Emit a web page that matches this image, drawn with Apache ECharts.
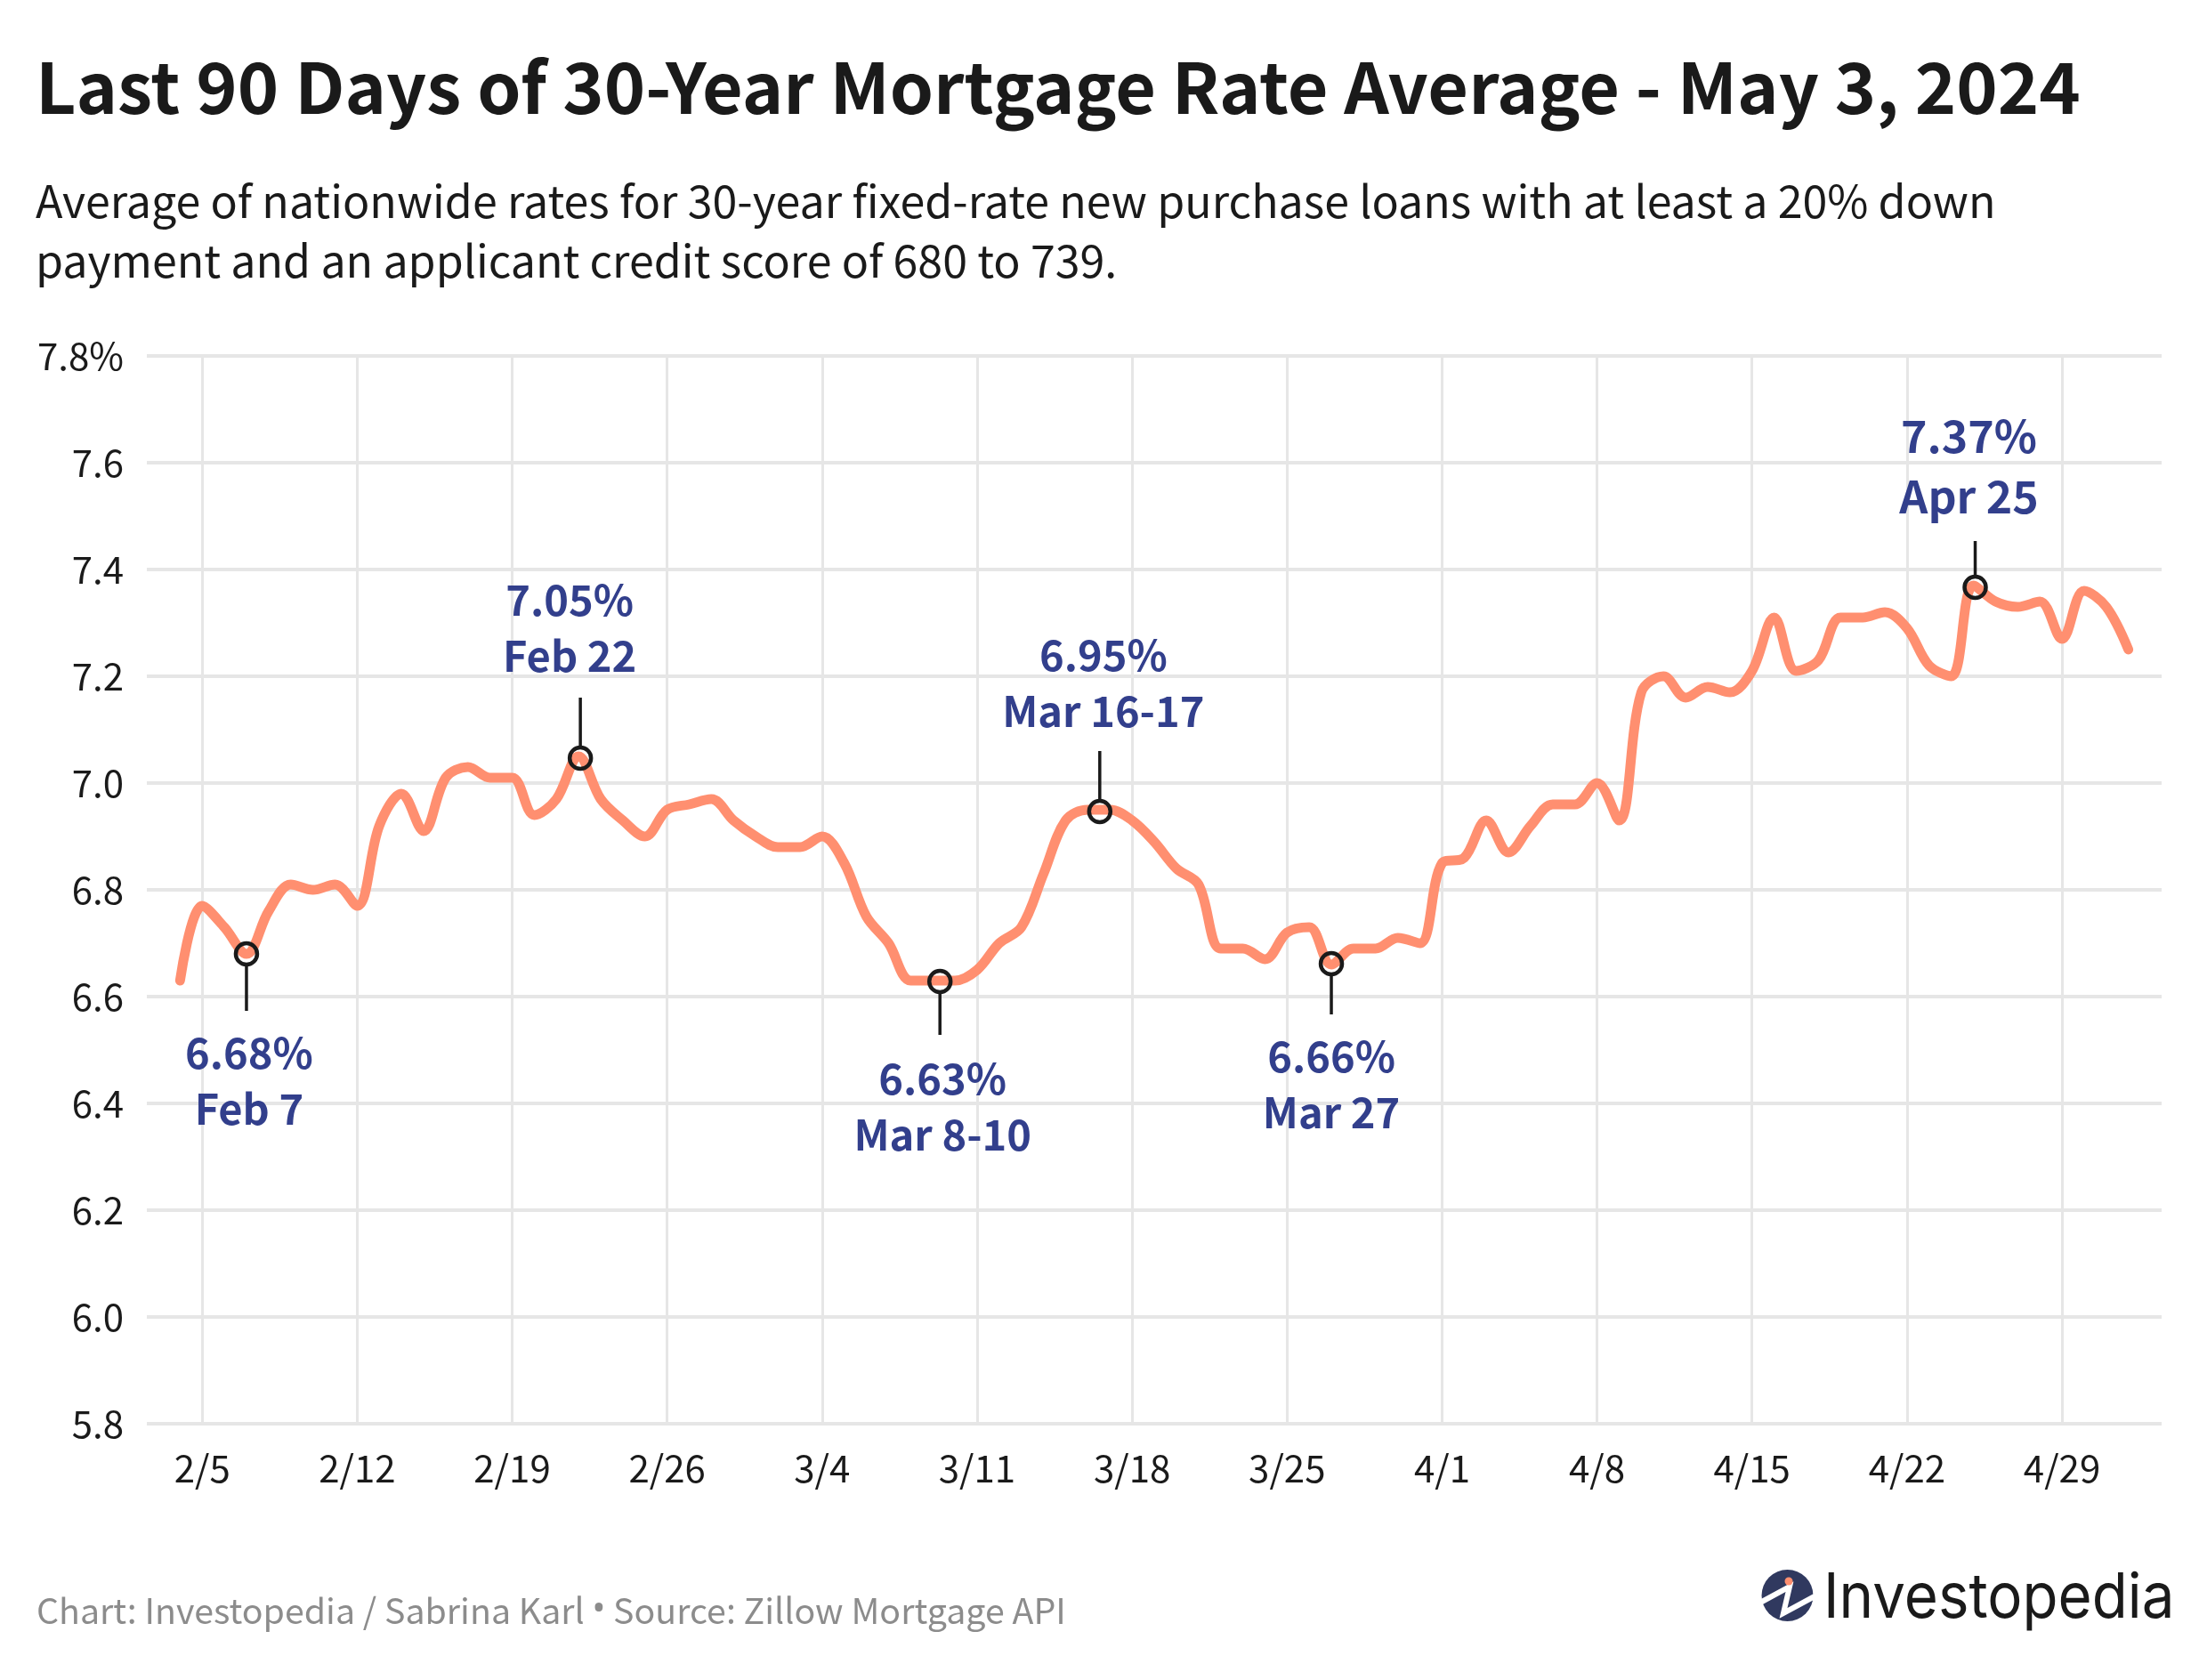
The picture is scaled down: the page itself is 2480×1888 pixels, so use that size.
<!DOCTYPE html>
<html>
<head>
<meta charset="utf-8">
<style>html,body{margin:0;padding:0;background:#fff}#chart{width:2480px;height:1888px}</style>
<script src="https://cdn.jsdelivr.net/npm/echarts@6/dist/echarts.min.js"></script>
</head>
<body>
<div id="chart"></div>
<script>
var dates = ['2/3','2/4','2/5','2/6','2/7','2/8','2/9','2/10','2/11','2/12','2/13','2/14','2/15','2/16','2/17','2/18','2/19','2/20','2/21','2/22','2/23','2/24','2/25','2/26','2/27','2/28','2/29',
    '3/1','3/2','3/3','3/4','3/5','3/6','3/7','3/8','3/9','3/10','3/11','3/12','3/13','3/14','3/15','3/16','3/17','3/18','3/19','3/20','3/21','3/22','3/23','3/24','3/25','3/26','3/27','3/28','3/29','3/30','3/31',
    '4/1','4/2','4/3','4/4','4/5','4/6','4/7','4/8','4/9','4/10','4/11','4/12','4/13','4/14','4/15','4/16','4/17','4/18','4/19','4/20','4/21','4/22','4/23','4/24','4/25','4/26','4/27','4/28','4/29','4/30',
    '5/1','5/2','5/3'];

var rates = [null,6.63,6.77,6.73,6.68,6.76,6.81,6.80,6.81,6.77,6.92,6.98,6.91,7.01,7.03,7.01,7.01,6.94,6.97,7.05,6.97,6.93,6.90,6.95,6.96,6.97,6.93,
    6.90,6.88,6.88,6.90,6.85,6.75,6.70,6.63,6.63,6.63,6.65,6.70,6.73,6.83,6.93,6.95,6.95,6.93,6.89,6.84,6.81,6.69,6.69,6.67,6.72,6.73,6.66,6.69,6.69,6.71,6.70,
    6.85,6.86,6.93,6.87,6.92,6.96,6.96,7.00,6.93,7.17,7.20,7.16,7.18,7.17,7.21,7.31,7.21,7.23,7.31,7.31,7.32,7.29,7.22,7.20,7.37,7.34,7.33,7.34,7.27,7.36,
    7.33,7.25,null];

var weekTicks = ['2/5','2/12','2/19','2/26','3/4','3/11','3/18','3/25','4/1','4/8','4/15','4/22','4/29'];

var calloutFrom = ['2/7','2/22','3/8','3/16','3/27','4/25'];
var calloutTo = ['2/7','2/22','3/10','3/17','3/27','4/25'];
var calloutValues = [6.68,7.05,6.63,6.95,6.66,7.37];
var calloutRates = ['6.68%','7.05%','6.63%','6.95%','6.66%','7.37%'];
var calloutNames = ['Feb 7','Feb 22','Mar 8-10','Mar 16-17','Mar 27','Apr 25'];

// hand placed annotation layout, in pixels from the point
var calloutSides = [1,-1,1,-1,1,-1];
var calloutDotShift = [0,2,8,1,0,2];
var calloutDotDrop = [0,2,1,2,-1,2];
var calloutTextShift = [3,-10,11,5,0,-5];
var calloutStem = [64,66,61,66,56,50];
var calloutRateY = [111,-176,110,-174,103,-168];
var calloutNameY = [174,-113,173,-111,166,-100];
var calloutFont = [47,47,47,47,47,50];

var FONT = '"Noto Sans CJK SC","Noto Sans",sans-serif';
var LINE = '#ff8f70';
var GRID = '#e6e6e6';
var INK = '#1a1a1a';
var NAVY = '#323f8c';

var myChart = echarts.init(document.getElementById('chart'), null, {renderer: 'canvas'});

function drawCallout(params, api) {
    var i = params.dataIndex;
    var a = api.coord([calloutFrom[i], calloutValues[i]]);
    var b = api.coord([calloutTo[i], calloutValues[i]]);
    var mid = (a[0] + b[0]) / 2, y = a[1];
    var x = mid + calloutDotShift[i];
    var dotY = y + calloutDotDrop[i];
    var side = calloutSides[i];
    var tx = mid + calloutTextShift[i];
    var font = '700 ' + calloutFont[i] + 'px ' + FONT;
    return {
        type: 'group',
        children: [
            {type: 'line', shape: {x1: x, y1: dotY + side * 13, x2: x, y2: y + side * calloutStem[i]},
                style: {stroke: INK, lineWidth: 3.5}},
            {type: 'circle', shape: {cx: x, cy: dotY, r: 12},
                style: {fill: 'rgba(255,255,255,0)', stroke: INK, lineWidth: 4.5}},
            {type: 'text', x: tx, y: y + calloutRateY[i],
                style: {text: calloutRates[i], font: font, fill: NAVY, textAlign: 'center', textVerticalAlign: 'middle'}},
            {type: 'text', x: tx, y: y + calloutNameY[i],
                style: {text: calloutNames[i], font: font, fill: NAVY, textAlign: 'center', textVerticalAlign: 'middle'}}
        ]
    };
}

var option = {
    backgroundColor: '#fff',
    animation: false,
    title: [
        {text: 'Last 90 Days of 30-Year Mortgage Rate Average - May 3, 2024', left: 35, top: 54,
            textStyle: {fontFamily: FONT, fontSize: 78.8, fontWeight: 700, color: INK}},
        {text: 'Average of nationwide rates for 30-year fixed-rate new purchase loans with at least a 20% down\npayment and an applicant credit score of 680 to 739.', left: 35, top: 187,
            textStyle: {fontFamily: FONT, fontSize: 50.1, fontWeight: 400, color: INK, lineHeight: 67}},
        {text: 'Chart: Investopedia / Sabrina Karl {dot|•} Source: Zillow Mortgage API', left: 36, top: 1785,
            textStyle: {fontFamily: FONT, fontSize: 39.3, fontWeight: 400, color: '#8c8c8c',
                rich: {dot: {fontFamily: '"Noto Sans"', fontSize: 39.3, color: '#8c8c8c'}}}}
    ],
    grid: {left: 165, width: 2264, top: 400, height: 1200},
    xAxis: {
        type: 'category',
        data: dates,
        axisLine: {show: false},
        axisTick: {show: false},
        axisLabel: {
            interval: function (i, val) { return weekTicks.indexOf(val) >= 0; },
            margin: 29, fontFamily: FONT, fontSize: 42, color: INK
        },
        splitLine: {
            show: true,
            alignWithLabel: true,
            interval: function (i, val) { return weekTicks.indexOf(val) >= 0; },
            lineStyle: {color: GRID, width: 3}
        }
    },
    yAxis: {
        type: 'value',
        min: 5.8, max: 7.8, interval: 0.2,
        axisLine: {show: false},
        axisTick: {show: false},
        axisLabel: {
            margin: 26, fontFamily: FONT, fontSize: 42, color: INK,
            formatter: function (v) { return v >= 7.79 ? v.toFixed(1) + '%' : v.toFixed(1); }
        },
        splitLine: {lineStyle: {color: GRID, width: 4}}
    },
    series: [
        {
            type: 'line',
            data: rates,
            smooth: 0.35,
            showSymbol: false,
            lineStyle: {color: LINE, width: 11, cap: 'round', join: 'round'},
            z: 3
        },
        {
            type: 'custom',
            data: calloutValues,
            renderItem: drawCallout,
            clip: false,
            z: 5
        }
    ],
    graphic: [
        {type: 'circle', shape: {cx: 2008.5, cy: 1793, r: 29}, style: {fill: '#30395f'}},
        {type: 'polyline', shape: {points: [[1978, 1801], [2011, 1783], [2004, 1813], [2039, 1794]]},
            style: {stroke: '#fff', lineWidth: 6, fill: null}},
        {type: 'circle', shape: {cx: 2010, cy: 1777, r: 4.5}, style: {fill: LINE}},
        {type: 'text', x: 2049, y: 1797, scaleX: 0.935,
            style: {text: 'Investopedia', font: '400 70px Inter', fill: INK, textAlign: 'left', textVerticalAlign: 'middle'}}
    ]
};

myChart.setOption(option);
</script>
</body>
</html>
